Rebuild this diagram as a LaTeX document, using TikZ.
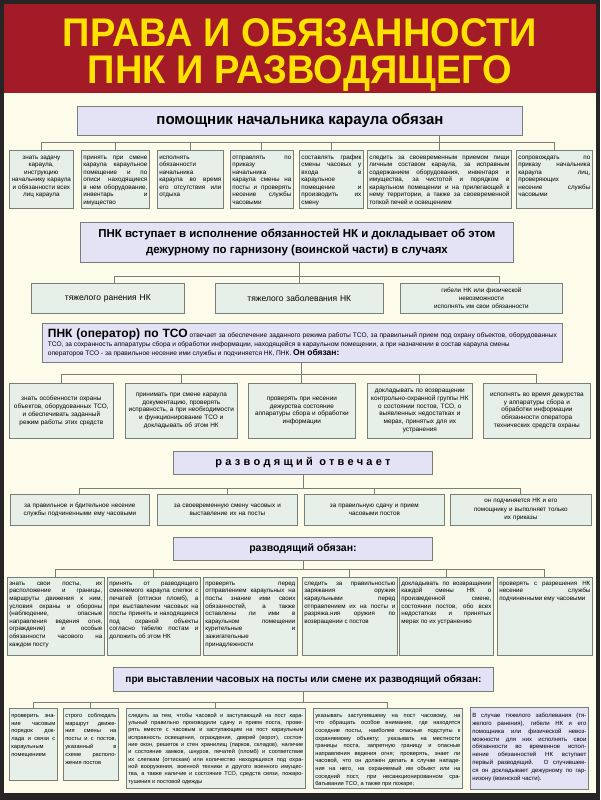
\documentclass[tikz,border=0pt]{standalone}
\usepackage{fontspec}
\setmainfont{Liberation Sans}
\usepackage{graphicx}
\definecolor{pkred}{RGB}{163,27,38}
\definecolor{pkyellow}{RGB}{255,226,0}
\definecolor{pkcream}{RGB}{253,251,233}
\definecolor{pklav}{RGB}{228,226,245}
\definecolor{pkcell}{RGB}{231,240,232}
\definecolor{pkline}{RGB}{120,126,120}
\definecolor{pkframe}{RGB}{38,36,36}
\usetikzlibrary{positioning,calc}
\hbadness=10000
\hfuzz=4pt

\begin{document}
\begin{tikzpicture}[x=1pt, y=-1pt,
  headbox/.style={draw=pkline, line width=0.9pt, fill=pklav, anchor=north west,
                  inner sep=0pt, align=center, font=\bfseries},
  cell/.style={draw=pkline, line width=0.7pt, fill=pkcell, anchor=north west,
               inner xsep=2pt, inner ysep=2pt, align=justify},
  boxsize/.style 2 args={minimum width=#1pt, minimum height=#2pt},
  cellsize/.style 2 args={minimum width=#1pt, text width=#1pt-4pt, minimum height=#2pt},
  s1/.style={cell, font=\fontsize{6.3}{7.5}\selectfont, text height=7pt, text depth=47pt},
  s3/.style={cell, align=center, font=\fontsize{6.4}{7.8}\selectfont},
  s4/.style={cell, align=center, font=\fontsize{6.3}{8.5}\selectfont},
  s5/.style={cell, font=\fontsize{6.2}{7.6}\selectfont, text height=6pt, text depth=68pt},
  wire/.style={draw=pkline, line width=0.8pt},
  titletext/.style={text=pkyellow, inner sep=0pt, anchor=base, font=\fontsize{40}{40}\selectfont\bfseries}
]
% frame, field and red header
\fill[pkframe] (0,0) rectangle (600,800);
\fill[pkcream] (4,4) rectangle (596,793);
\fill[pkred] (4,4) rectangle (596,93);
\node[titletext] (title1) at (300,47) {\scalebox{0.95}[1]{ПРАВА И ОБЯЗАННОСТИ}};
\node[titletext] (title2) at (300,84) {\scalebox{0.95}[1]{ПНК И РАЗВОДЯЩЕГО}};

% помощник начальника караула
\node[headbox, boxsize={445}{29}, font=\fontsize{15}{18}\selectfont\bfseries] (h1) at (77,106)
  {помощник начальника караула обязан};
\node[s1, cellsize={64}{58}, align=center] (p1) at (9,150)
  {знать задачу\\караула,\\инструкцию\\начальнику караула\\и обязанности всех\\лиц караула};
\node[s1, cellsize={68}{58}] (p2) at (81,150)
  {принять при смене\linebreak караула караульное\linebreak помещение и по\linebreak описи находящиеся\linebreak в нем оборудование,\linebreak инвентарь и\linebreak имущество};
\node[s1, cellsize={66}{58}] (p3) at (157,150)
  {исполнять\linebreak обязанности\linebreak начальника\linebreak караула во время\linebreak его отсутствия или\linebreak отдыха};
\node[s1, cellsize={63}{58}] (p4) at (230,150)
  {отправлять по\linebreak приказу\linebreak начальника\linebreak караула смены на\linebreak посты и проверять\linebreak несение службы\linebreak часовыми};
\node[s1, cellsize={64}{58}] (p5) at (299,150)
  {составлять график\linebreak смены часовых у\linebreak входа в\linebreak караульное\linebreak помещение и\linebreak производить их\linebreak смену};
\node[s1, cellsize={144}{58}] (p6) at (367,150)
  {следить за своевременным приемом пищи\linebreak личным составом караула, за исправным\linebreak содержанием оборудования, инвентаря и\linebreak имущества, за чистотой и порядком в\linebreak караульном помещении и на прилегающей к\linebreak нему территории, а также за своевременной\linebreak топкой печей и освещением};
\node[s1, cellsize={76}{58}] (p7) at (516,150)
  {сопровождать по\linebreak приказу начальника\linebreak караула лиц,\linebreak проверяющих\linebreak несение службы\linebreak часовыми};
\coordinate (bus1) at ($(p6.north)+(0,-8)$);
\draw[wire] (h1.south -| p6.north) -- (p6.north);
\foreach \b in {p1,p2,p3,p4,p5,p7}
  \draw[wire] (bus1) -| (\b.north);

% ПНК вступает в исполнение
\node[headbox, boxsize={433}{40}, font=\fontsize{11.5}{16}\selectfont\bfseries] (h2) at (80,222)
  {ПНК вступает в исполнение обязанностей НК и докладывает об этом\\дежурному по гарнизону (воинской части) в случаях};
\node[cell, cellsize={153}{30}, align=center, font=\fontsize{8.5}{10}\selectfont] (v1) at (31,283)
  {тяжелого ранения НК};
\node[cell, cellsize={168}{30}, align=center, font=\fontsize{8.5}{10}\selectfont] (v2) at (215,283)
  {тяжелого заболевания НК};
\node[cell, cellsize={162}{30}, align=center, font=\fontsize{6.3}{8}\selectfont] (v3) at (400,283)
  {гибели НК или физической\\невозможности\\исполнять им свои обязанности};
\coordinate (bus2) at ($(v2.north)+(0,-7)$);
\draw[wire] (h2.south -| v2.north) -- (v2.north);
\draw[wire] (bus2) -| ([xshift=7pt]v1.north);
\draw[wire] (bus2) -| ([xshift=18pt]v3.north);

% ПНК (оператор) по ТСО
\node[headbox, boxsize={520}{39}, text width=509pt, align=justify, font=\fontsize{6.6}{9}\selectfont] (h3) at (42,323)
  {{\fontsize{12}{12}\selectfont\bfseries ПНК (оператор) по ТСО} отвечает за обеспечение заданного режима работы ТСО, за правильный прием под охрану объектов, оборудованных\linebreak ТСО, за сохранность аппаратуры сбора и обработки информации, находящейся в караульном помещении, а при назначении в состав караула смены\newline операторов ТСО - за правильное несение ими службы и подчиняется НК, ПНК. {\fontsize{8.5}{9}\selectfont\bfseries Он обязан:}};
\node[s3, cellsize={104}{55}] (t1) at (9,383)
  {знать особенности охраны\\объектов, оборудованных ТСО,\\и обеспечивать заданный\\режим работы этих средств};
\node[s3, cellsize={112}{55}] (t2) at (125,383)
  {принимать при смене караула\\документацию, проверять\\исправность, а при необходимости\\и функционирование ТСО и\\докладывать об этом НК};
\node[s3, cellsize={107}{55}] (t3) at (248,383)
  {проверять при несении\\дежурства состояние\\аппаратуры сбора и обработки\\информации};
\node[s3, cellsize={105}{55}] (t4) at (367,383)
  {докладывать по возвращении\\контрольно-охранной группы НК\\о состоянии постов, ТСО, о\\выявленных недостатках и\\мерах, принятых для их\\устранения};
\node[s3, cellsize={107}{55}] (t5) at (483,383)
  {исполнять во время дежурства\\у аппаратуры сбора и\\обработки информации\\обязанности оператора\\технических средств охраны};
\coordinate (bus3) at ($(t3.north)+(0,-9)$);
\draw[wire] (h3.south -| t3.north) -- (t3.north);
\foreach \b in {t1,t2,t4,t5}
  \draw[wire] (bus3) -| (\b.north);

% разводящий отвечает
\node[headbox, boxsize={259}{23}, font=\fontsize{11}{13}\selectfont\bfseries\addfontfeature{LetterSpace=30}] (h4) at (173,451)
  {разводящий отвечает};
\node[s4, cellsize={139}{31}] (o1) at (10,494)
  {за правильное и бдительное несение\\службы подчиненными ему часовыми};
\node[s4, cellsize={140}{31}] (o2) at (157,494)
  {за своевременную смену часовых и\\выставление их на посты};
\node[s4, cellsize={140}{31}] (o3) at (304,494)
  {за правильную сдачу и прием\\часовыми постов};
\node[s4, cellsize={141}{31}] (o4) at (450,494)
  {он подчиняется НК и его\\помощнику и выполняет только\\их приказы};
\coordinate (bus4) at ($(h4.south)+(0,13)$);
\draw[wire] (h4.south) -- (bus4);
\foreach \b in {o1,o2,o3,o4}
  \draw[wire] (bus4) -| (\b.north);

% разводящий обязан
\node[headbox, boxsize={259}{23}, font=\fontsize{10.5}{13}\selectfont\bfseries] (h5) at (173,537)
  {разводящий обязан:};
\node[s5, cellsize={97}{78}] (r1) at (7,577)
  {знать свои посты, их\linebreak расположение и границы,\linebreak маршруты движения к ним,\linebreak условия охраны и обороны\linebreak (наблюдение, опасные\linebreak направления ведения огня,\linebreak ограждение) и особые\linebreak обязанности часового на\linebreak каждом посту};
\node[s5, cellsize={93}{78}] (r2) at (107,577)
  {принять от разводящего\linebreak сменяемого караула слепки с\linebreak печатей (оттиски пломб), а\linebreak при выставлении часовых на\linebreak посты принять и находящиеся\linebreak под охраной объекты\linebreak согласно табелю постам и\linebreak доложить об этом НК};
\node[s5, cellsize={94}{78}] (r3) at (203,577)
  {проверять перед\linebreak отправлением караульных на\linebreak посты знание ими своих\linebreak обязанностей, а также\linebreak оставлены ли ими в\linebreak караульном помещении\linebreak курительные и\linebreak зажигательные\linebreak принадлежности};
\node[s5, cellsize={95}{78}] (r4) at (302,577)
  {следить за правильностью\linebreak заряжания оружия\linebreak караульными перед\linebreak отправлением их на посты и\linebreak разряжа.ния оружия по\linebreak возвращении с постов};
\node[s5, cellsize={94}{78}] (r5) at (399,577)
  {докладывать по возвращении\linebreak каждой смены НК о\linebreak произведенной смене,\linebreak состоянии постов, обо всех\linebreak недостатках и принятых\linebreak мерах по их устранению};
\node[s5, cellsize={95}{78}] (r6) at (497,577)
  {проверять с разрешения НК\linebreak несение службы\linebreak подчиненными ему часовыми};
\coordinate (bus5) at ($(h5.south)+(0,8)$);
\draw[wire] (h5.south) -- (bus5);
\foreach \b in {r1,r2,r4,r5,r6}
  \draw[wire] (bus5) -| (\b.north);

% при выставлении часовых
\node[headbox, boxsize={380}{24}, font=\fontsize{10}{12}\selectfont\bfseries] (h6) at (113,667)
  {при выставлении часовых на посты или смене их разводящий обязан:};
\node[cell, cellsize={48}{72}, font=\fontsize{5.7}{7.8}\selectfont, text height=7pt, text depth=61pt] (w1) at (9,708)
  {проверить зна-\linebreak ние часовым\linebreak порядок док-\linebreak лада и связи с\linebreak караульным\linebreak помещением};
\node[cell, cellsize={55}{72}, font=\fontsize{5.7}{7.8}\selectfont, text height=7pt, text depth=61pt] (w2) at (63,708)
  {строго соблюдать\linebreak маршрут движе-\linebreak ния смены на\linebreak посты и с постов,\linebreak указанный в\linebreak схеме располо-\linebreak жения постов};
\node[cell, cellsize={179}{80}, font=\fontsize{5.6}{7.3}\selectfont, text height=7pt, text depth=69pt] (w3) at (126,708)
  {следить за тем, чтобы часовой и заступающий на пост кара-\linebreak ульный правильно производили сдачу и прием поста, прове-\linebreak рять вместе с часовым и заступающим на пост караульным\linebreak исправность освещения, ограждения, дверей (ворот), состоя-\linebreak ние окон, решеток и стен хранилищ (парков, складов), наличие\linebreak и состояние замков, шнуров, печатей (пломб) и соответствие\linebreak их слепкам (оттискам) или количество находящихся под охра-\linebreak ной вооружения, военной техники и другого военного имущес-\linebreak тва, а также наличие и состояние ТСО, средств связи, пожаро-\linebreak тушения и постовой одежды};
\node[cell, cellsize={149}{80}, font=\fontsize{5.7}{7.6}\selectfont, text height=7pt, text depth=69pt] (w4) at (313,708)
  {указывать заступившему на пост часовому, на\linebreak что обращать особое внимание, где находятся\linebreak соседние посты, наиболее опасные подступы к\linebreak охраняемому объекту; указывать на местности\linebreak границы поста, запретную границу и опасные\linebreak направления ведения огня; проверять, знает ли\linebreak часовой, что он должен делать в случае нападе-\linebreak ния на него, на охраняемый им объект или на\linebreak соседний пост, при несанкционированном сра-\linebreak батывании ТСО, а также при пожаре;};
\node[cell, cellsize={118}{82}, fill=pklav, font=\fontsize{6}{7.9}\selectfont, text height=8pt, text depth=70pt] (w5) at (470,707)
  {В случае тяжелого заболевания (тя-\linebreak желого ранения), гибели НК и его\linebreak помощника или физической невоз-\linebreak можности для них исполнять свои\linebreak обязанности во временное испол-\linebreak нение обязанностей НК вступает\linebreak первый разводящий. О случившем-\linebreak ся он докладывает дежурному по гар-\linebreak низону (воинской части).};
\coordinate (bus6) at ($(h6.south)+(0,10)$);
\draw[wire] (h6.south) -- (bus6);
\foreach \b in {w1,w2,w3,w4}
  \draw[wire] (bus6) -| (\b.north);
\end{tikzpicture}
\end{document}
